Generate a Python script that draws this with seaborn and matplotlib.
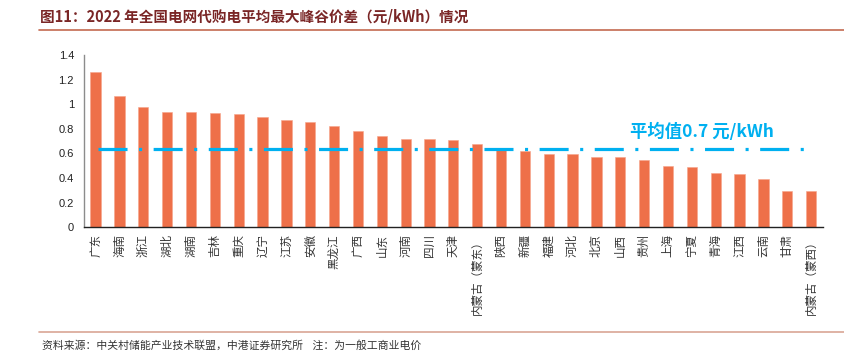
import matplotlib
matplotlib.use("Agg")
import matplotlib.pyplot as plt
import seaborn as sns
import pandas as pd
from matplotlib.lines import Line2D

# ---- data ----
provinces = ["广东", "海南", "浙江", "湖北", "湖南", "吉林", "重庆", "辽宁", "江苏", "安徽",
             "黑龙江", "广西", "山东", "河南", "四川", "天津", "内蒙古（蒙东）", "陕西", "新疆", "福建",
             "河北", "北京", "山西", "贵州", "上海", "宁夏", "青海", "江西", "云南", "甘肃",
             "内蒙古（蒙西）"]
spread = [1.26, 1.07, 0.98, 0.94, 0.94, 0.93, 0.92, 0.90, 0.87, 0.855,
          0.82, 0.78, 0.74, 0.72, 0.715, 0.71, 0.675, 0.635, 0.62, 0.595,
          0.595, 0.575, 0.57, 0.55, 0.495, 0.49, 0.44, 0.435, 0.395, 0.295,
          0.295]
avg_value = 0.64
avg_label = "平均值0.7 元/kWh"
yticks = [0, 0.2, 0.4, 0.6, 0.8, 1.0, 1.2, 1.4]
ytick_labels = ["0", "0.2", "0.4", "0.6", "0.8", "1", "1.2", "1.4"]
title = "图11：2022 年全国电网代购电平均最大峰谷价差（元/kWh）情况"
source = "资料来源：中关村储能产业技术联盟，中港证券研究所    注：为一般工商业电价"

sns.set_style("white")
plt.rcParams['font.family'] = ['Noto Sans CJK SC', 'DejaVu Sans']
plt.rcParams['lines.scale_dashes'] = False

df = pd.DataFrame({"省份": provinces, "价差": spread})

fig = plt.figure(figsize=(8.45, 3.59), dpi=100)
ax = fig.add_axes([83.7 / 845, 1 - 227.3 / 359, (823 - 83.7) / 845, (227.3 - 55) / 359])

sns.barplot(data=df, x="省份", y="价差", color="#EE7049", saturation=1, width=0.43, ax=ax,
            edgecolor="#F6A48A", linewidth=0.4)

ax.set_xlim(-0.5, len(provinces) - 0.5)
ax.set_ylim(0, 1.4)
ax.set_yticks(yticks)
ax.set_yticklabels(ytick_labels, family=['Liberation Sans'], fontsize=8, color="#222222")
ax.set_xlabel("")
ax.set_ylabel("")
ax.set_xticks(range(len(provinces)))
ax.set_xticklabels(provinces, rotation=90, fontsize=8.3, color="#333333", va="top", ha="center")
ax.tick_params(axis='x', which='major', length=0, pad=5)
ax.set_xticks([i + 0.5 for i in range(len(provinces) - 1)], minor=True)
ax.tick_params(axis='x', which='minor', length=3, direction='out', color="#444444", width=0.8)
ax.tick_params(axis='y', which='major', length=3, direction='in', color="#555555", width=0.8, pad=7)

for s in ["top", "right"]:
    ax.spines[s].set_visible(False)
ax.spines["left"].set_color("#8c8c8c")
ax.spines["left"].set_linewidth(1.0)
ax.spines["bottom"].set_color("#222222")
ax.spines["bottom"].set_linewidth(1.0)

# average line
ax.plot([0.08, 29.7], [avg_value, avg_value], color="#00B0F0", linewidth=2.3,
        dashes=(20.9, 8.3, 2.2, 8.3), solid_capstyle='butt', dash_capstyle='butt', zorder=5)
ax.text(22.4, 0.775, avg_label, color="#00B0F0", fontsize=12.5, fontweight='bold',
        ha='left', va='center', family=['Noto Sans CJK SC', 'DejaVu Sans'])

# title and decorations
fig.text(40 / 845, 1 - 17 / 359, title, color="#7A2626", fontsize=10.5, fontweight='bold',
         ha='left', va='center')
fig.add_artist(Line2D([39 / 845, 1], [1 - 29.5 / 359] * 2, color="#C46A50", linewidth=1.2))
fig.add_artist(Line2D([39 / 845, 1], [1 - 331.5 / 359] * 2, color="#D9A595", linewidth=1.2))
fig.text(42 / 845, 1 - 345 / 359, source, color="#333333", fontsize=7.8, ha='left', va='center')

fig.savefig("out.png", dpi=100)
